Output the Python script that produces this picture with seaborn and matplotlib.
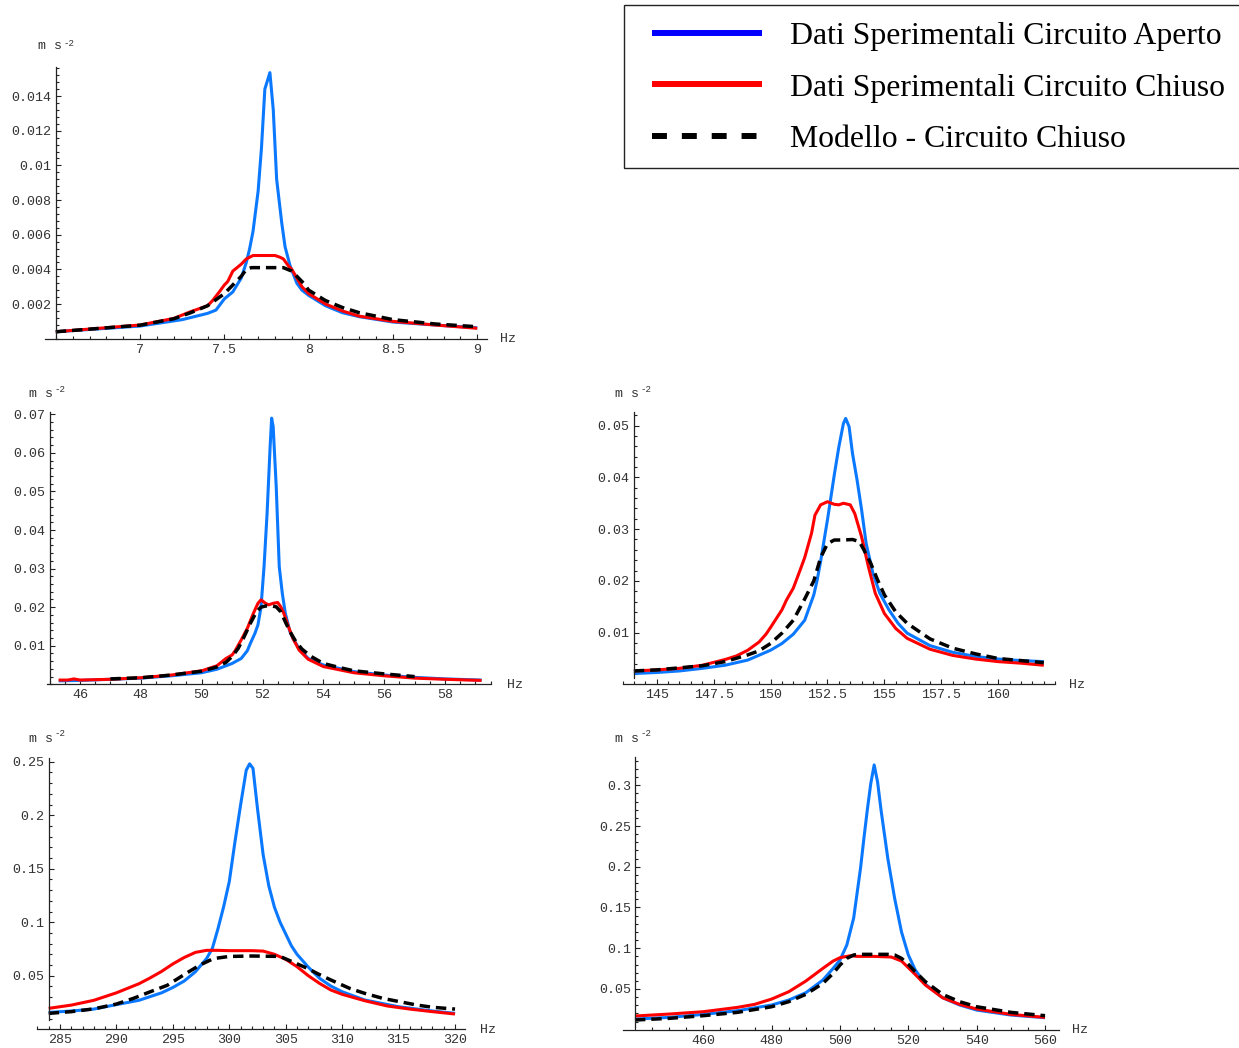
import numpy as np
import matplotlib
matplotlib.use("Agg")
import matplotlib.pyplot as plt
from matplotlib.lines import Line2D
from matplotlib.patches import Rectangle
from matplotlib.ticker import FixedLocator, FuncFormatter
import seaborn as sns

W, H = 1239, 1048

# ---------------- data ----------------
# Panel 1 (~7.7 Hz)
p1_f_open = [6.5, 7.0, 7.25, 7.4, 7.45, 7.5, 7.55, 7.6, 7.63, 7.65, 7.67, 7.7, 7.72, 7.74, 7.77, 7.79, 7.81, 7.84, 7.86, 7.89, 7.93, 7.96, 8.0, 8.1, 8.2, 8.3, 8.5, 8.75, 9.0]
p1_a_open = [0.0004, 0.00073, 0.0011, 0.00146, 0.00165, 0.0023, 0.0027, 0.0035, 0.0044, 0.0052, 0.0062, 0.0085, 0.011, 0.0144, 0.01535, 0.0132, 0.0092, 0.0067, 0.0053, 0.0042, 0.0032, 0.0028, 0.0025, 0.0019, 0.0015, 0.00127, 0.00096, 0.00079, 0.00063]
p1_f_closed = [6.5, 7.0, 7.2, 7.3, 7.4, 7.43, 7.47, 7.5, 7.52, 7.55, 7.6, 7.63, 7.67, 7.7, 7.75, 7.8, 7.83, 7.85, 7.88, 7.9, 7.93, 7.96, 8.0, 8.1, 8.2, 8.3, 8.5, 8.75, 9.0]
p1_a_closed = [0.0004, 0.00079, 0.00117, 0.00156, 0.0019, 0.0022, 0.0027, 0.0031, 0.0033, 0.0039, 0.0043, 0.0046, 0.0048, 0.0048, 0.0048, 0.0048, 0.0047, 0.0046, 0.0042, 0.004, 0.0035, 0.003, 0.0026, 0.002, 0.0016, 0.0013, 0.001, 0.00079, 0.0006]
p1_f_model = [6.5, 7.0, 7.2, 7.3, 7.4, 7.5, 7.55, 7.6, 7.63, 7.66, 7.7, 7.75, 7.8, 7.85, 7.9, 7.93, 7.97, 8.0, 8.05, 8.1, 8.2, 8.3, 8.5, 8.75, 9.0]
p1_a_model = [0.0004, 0.00078, 0.00115, 0.0015, 0.0019, 0.0026, 0.0031, 0.0036, 0.004, 0.0041, 0.0041, 0.0041, 0.0041, 0.0041, 0.0039, 0.0036, 0.0032, 0.0028, 0.0025, 0.0022, 0.0018, 0.0015, 0.0011, 0.00085, 0.00069]
p1_xticks = [7, 7.5, 8, 8.5, 9]
p1_yticks = [0.002, 0.004, 0.006, 0.008, 0.01, 0.012, 0.014]

# Panel 2 (~52 Hz)
p2_f_open = [45.3, 46, 47, 48, 49, 50, 50.5, 51, 51.3, 51.5, 51.6, 51.75, 51.85, 51.95, 52.05, 52.15, 52.25, 52.3, 52.35, 52.45, 52.55, 52.65, 52.75, 52.9, 53.0, 53.2, 53.5, 54, 55, 56, 57, 58, 59.2]
p2_a_open = [0.0009, 0.001, 0.0013, 0.0016, 0.0022, 0.003, 0.0039, 0.0054, 0.0067, 0.0087, 0.0106, 0.0132, 0.0154, 0.02, 0.0305, 0.0443, 0.0616, 0.069, 0.0668, 0.0513, 0.0305, 0.0236, 0.0184, 0.0137, 0.0119, 0.0093, 0.0067, 0.005, 0.0033, 0.0024, 0.0018, 0.0014, 0.0011]
p2_f_closed = [45.3, 45.6, 45.8, 46, 47, 48, 49, 50, 50.5, 50.8, 51.0, 51.1, 51.3, 51.5, 51.7, 51.85, 51.95, 52.1, 52.2, 52.35, 52.5, 52.6, 52.7, 52.85, 53.0, 53.2, 53.5, 54, 55, 56, 57, 58, 59.2]
p2_a_closed = [0.0011, 0.0011, 0.0014, 0.0011, 0.0013, 0.0017, 0.0024, 0.0035, 0.0048, 0.0067, 0.0076, 0.0087, 0.0115, 0.0145, 0.0184, 0.021, 0.0219, 0.021, 0.0206, 0.021, 0.0212, 0.0201, 0.0184, 0.015, 0.0119, 0.0089, 0.0065, 0.0046, 0.003, 0.0022, 0.0016, 0.0013, 0.001]
p2_f_model = [47, 48, 49, 50, 50.5, 50.8, 51.0, 51.2, 51.4, 51.6, 51.8, 51.95, 52.1, 52.3, 52.45, 52.6, 52.75, 52.9, 53.1, 53.3, 53.6, 54, 54.5, 55, 56, 57]
p2_a_model = [0.0014, 0.0017, 0.0024, 0.0034, 0.0045, 0.0057, 0.0072, 0.0093, 0.0124, 0.0158, 0.0188, 0.02, 0.0203, 0.0203, 0.0201, 0.0188, 0.0162, 0.0137, 0.011, 0.0091, 0.0072, 0.0054, 0.0044, 0.0035, 0.0027, 0.002]
p2_xticks = [46, 48, 50, 52, 54, 56, 58]
p2_yticks = [0.01, 0.02, 0.03, 0.04, 0.05, 0.06, 0.07]

# Panel 3 (~153 Hz)
p3_f_open = [144, 145, 146, 147, 148, 149, 150, 150.5, 151, 151.5, 151.9, 152.05, 152.2, 152.5, 152.8, 153.0, 153.2, 153.3, 153.45, 153.6, 153.8, 154.0, 154.2, 154.5, 154.8, 155.2, 155.6, 156, 157, 158, 159, 160, 161, 162]
p3_a_open = [0.0021, 0.0023, 0.0026, 0.0031, 0.0037, 0.0047, 0.0066, 0.0079, 0.0097, 0.0124, 0.0173, 0.0202, 0.0238, 0.0318, 0.0405, 0.0459, 0.0504, 0.0514, 0.0498, 0.0446, 0.0395, 0.0337, 0.0272, 0.0214, 0.0176, 0.0144, 0.0118, 0.0099, 0.0075, 0.0062, 0.0054, 0.0049, 0.0046, 0.0044]
p3_f_closed = [144, 145, 146, 147, 148, 148.5, 149, 149.5, 149.8, 150, 150.5, 150.7, 151, 151.3, 151.5, 151.8, 151.95, 152.2, 152.5, 152.8, 153.0, 153.2, 153.5, 153.7, 154, 154.3, 154.6, 155, 155.5, 156, 157, 158, 159, 160, 161, 162]
p3_a_closed = [0.0026, 0.0028, 0.0031, 0.0037, 0.0048, 0.0055, 0.0066, 0.0082, 0.0097, 0.011, 0.0144, 0.0163, 0.0186, 0.0221, 0.0245, 0.0292, 0.0327, 0.0347, 0.0353, 0.0348, 0.0347, 0.035, 0.0347, 0.033, 0.0285, 0.0227, 0.0176, 0.0137, 0.0108, 0.0089, 0.0068, 0.0056, 0.0049, 0.0044, 0.0041, 0.0037]
p3_f_model = [144, 145, 146, 147, 148, 149, 149.5, 150, 150.5, 151, 151.5, 151.9, 152.2, 152.5, 152.8, 153.2, 153.6, 153.9, 154.1, 154.4, 154.7, 155.0, 155.5, 156, 157, 158, 159, 160, 161, 162]
p3_a_model = [0.0026, 0.0028, 0.0032, 0.0036, 0.0044, 0.0057, 0.0065, 0.0079, 0.0099, 0.0124, 0.0165, 0.02, 0.0245, 0.0272, 0.0279, 0.0279, 0.028, 0.0276, 0.026, 0.0234, 0.0202, 0.0173, 0.014, 0.0118, 0.0088, 0.007, 0.0059, 0.005, 0.0046, 0.0042]
p3_xticks = [145, 147.5, 150, 152.5, 155, 157.5, 160]
p3_yticks = [0.01, 0.02, 0.03, 0.04, 0.05]

# Panel 4 (~302 Hz)
p4_f_open = [284, 286, 288, 290, 292, 294, 295, 296, 297, 298, 298.5, 299, 299.5, 300, 300.5, 301, 301.5, 301.8, 302.1, 302.5, 303, 303.5, 304, 304.5, 305, 305.5, 306, 307, 308, 309, 310, 312, 315, 318, 320]
p4_a_open = [0.0157, 0.017, 0.0188, 0.023, 0.027, 0.034, 0.039, 0.045, 0.0537, 0.0662, 0.0755, 0.094, 0.1145, 0.138, 0.175, 0.2095, 0.242, 0.248, 0.2438, 0.206, 0.163, 0.134, 0.114, 0.1, 0.089, 0.078, 0.07, 0.058, 0.0475, 0.0403, 0.035, 0.0273, 0.021, 0.017, 0.0148]
p4_f_closed = [284, 286, 288, 290, 292, 293, 294, 295, 296, 297, 298, 299, 300, 301, 302, 303, 304, 305, 306, 307, 308, 309, 310, 312, 314, 316, 318, 320]
p4_a_closed = [0.0195, 0.0225, 0.027, 0.034, 0.0425, 0.048, 0.054, 0.061, 0.067, 0.0718, 0.0737, 0.0737, 0.0734, 0.0734, 0.0734, 0.073, 0.07, 0.0653, 0.0584, 0.05, 0.0428, 0.0366, 0.0326, 0.0266, 0.0217, 0.0188, 0.0164, 0.0142]
p4_f_model = [284, 286, 288, 290, 291.5, 293, 294.5, 296, 297.4, 298.6, 300, 302, 304.5, 305.7, 307, 307.8, 309, 310.7, 312, 313.6, 316.6, 318, 320]
p4_a_model = [0.0148, 0.0164, 0.019, 0.0235, 0.0288, 0.035, 0.041, 0.051, 0.06, 0.066, 0.068, 0.0684, 0.068, 0.0625, 0.0565, 0.052, 0.046, 0.038, 0.0335, 0.0288, 0.0226, 0.0205, 0.0188]
p4_xticks = [285, 290, 295, 300, 305, 310, 315, 320]
p4_yticks = [0.05, 0.1, 0.15, 0.2, 0.25]

# Panel 5 (~510 Hz)
p5_f_open = [440, 450, 460, 470, 480, 485, 490, 495, 498, 500, 502, 504, 506, 507, 508, 509, 510, 511, 512, 514, 516, 518, 520, 522, 525, 530, 535, 540, 550, 560]
p5_a_open = [0.0131, 0.0151, 0.0188, 0.0233, 0.0303, 0.0364, 0.0454, 0.061, 0.0753, 0.0855, 0.104, 0.137, 0.198, 0.235, 0.27, 0.302, 0.325, 0.304, 0.27, 0.21, 0.161, 0.12, 0.0917, 0.0735, 0.0558, 0.0393, 0.0303, 0.0241, 0.018, 0.0147]
p5_f_closed = [440, 450, 460, 470, 475, 480, 485, 490, 495, 498, 500, 503, 505, 510, 515, 518, 520, 522, 525, 530, 535, 540, 550, 560]
p5_a_closed = [0.0168, 0.0192, 0.0221, 0.0274, 0.0311, 0.0376, 0.0466, 0.0597, 0.0753, 0.0843, 0.0884, 0.0908, 0.09, 0.09, 0.0892, 0.0843, 0.0761, 0.0679, 0.0548, 0.0393, 0.0311, 0.0254, 0.0188, 0.0151]
p5_f_model = [440, 450, 460, 470, 480, 485, 490, 495, 498, 500, 502, 504, 506, 510, 514, 516, 518, 520, 522, 525, 530, 535, 540, 550, 560]
p5_a_model = [0.0119, 0.0139, 0.0172, 0.0213, 0.0282, 0.0344, 0.0434, 0.0569, 0.0691, 0.0794, 0.0876, 0.0917, 0.0925, 0.0925, 0.0925, 0.0917, 0.0876, 0.0802, 0.0712, 0.0589, 0.0434, 0.0344, 0.0282, 0.0213, 0.0172]
p5_xticks = [460, 480, 500, 520, 540, 560]
p5_yticks = [0.05, 0.1, 0.15, 0.2, 0.25, 0.3]

legend_labels = ["Dati Sperimentali Circuito Aperto",
                 "Dati Sperimentali Circuito Chiuso",
                 "Modello - Circuito Chiuso"]
unit_text = "m s"
unit_sup = "-2"
freq_unit = "Hz"

# ---------------- styles / layout ----------------
C_OPEN = "#0a78ff"
C_CLOSED = "#ff0000"
C_MODEL = "#000000"
MONO = "Liberation Mono"
SERIF = "Liberation Serif"
TICK_FS = 9.6

panels = [
    dict(data=(p1_f_open, p1_a_open, p1_f_closed, p1_a_closed, p1_f_model, p1_a_model),
         xt=p1_xticks, yt=p1_yticks,
         xlim=(6.436, 9.056), px=(45, 486.7), yzero=338.7, ky=17333, ylim=(-0.0004, 0.0161),
         ox=6.5, yb=(0, 0.0157), mx=0.1, my=0.0004, unit=(37.7, 49.3, 45.6), hz=(500, 341.7)),
    dict(data=(p2_f_open, p2_a_open, p2_f_closed, p2_a_closed, p2_f_model, p2_a_model),
         xt=p2_xticks, yt=p2_yticks,
         xlim=(44.9, 59.5), px=(46.5, 490.7), yzero=684.3, ky=3857, ylim=(-0.0015, 0.0715),
         ox=45, yb=(0, 0.0705), mx=0.5, my=0.002, unit=(29.3, 396.6, 391.5), hz=(506.7, 688.3)),
    dict(data=(p3_f_open, p3_a_open, p3_f_closed, p3_a_closed, p3_f_model, p3_a_model),
         xt=p3_xticks, yt=p3_yticks,
         xlim=(143.5, 162.5), px=(622.5, 1055.2), yzero=684.4, ky=5175, ylim=(-0.001, 0.0535),
         ox=144, yb=(0.0012, 0.0527), mx=0.5, my=0.002, unit=(615, 396.6, 391.5), hz=(1069.3, 688.3)),
    dict(data=(p4_f_open, p4_a_open, p4_f_closed, p4_a_closed, p4_f_model, p4_a_model),
         xt=p4_xticks, yt=p4_yticks,
         xlim=(283, 320.9), px=(37.4, 465.2), yzero=1029.2, ky=1070, ylim=(-0.004, 0.256),
         ox=284, yb=(0.0086, 0.2532), mx=1, my=0.01, unit=(29.3, 741.6, 736.5), hz=(480, 1033.3)),
    dict(data=(p5_f_open, p5_a_open, p5_f_closed, p5_a_closed, p5_f_model, p5_a_model),
         xt=p5_xticks, yt=p5_yticks,
         xlim=(436.5, 564), px=(623, 1058.7), yzero=1029.7, ky=814.7, ylim=(-0.005, 0.338),
         ox=440, yb=(0.0037, 0.335), mx=5, my=0.01, unit=(615, 741.6, 736.5), hz=(1071.7, 1033.3)),
]


def minor_positions(lo, hi, step):
    start = np.ceil(lo / step - 1e-9) * step
    return list(np.arange(start, hi + step * 1e-6, step))


fig = plt.figure(figsize=(W / 100, H / 100), dpi=100)
fig.patch.set_facecolor("white")

fmt = FuncFormatter(lambda v, pos: f"{round(v, 6):g}")

for p in panels:
    x0p, x1p = p["px"]
    ya, yb = p["ylim"]
    bot_px = p["yzero"] - ya * p["ky"]
    top_px = p["yzero"] - yb * p["ky"]
    ax = fig.add_axes([x0p / W, 1 - bot_px / H, (x1p - x0p) / W, (bot_px - top_px) / H])
    ax.set_facecolor("none")
    fo, ao, fc, ac, fm, am = p["data"]
    sns.lineplot(x=np.array(fo), y=np.array(ao), ax=ax, color=C_OPEN, lw=2.2,
                 estimator=None, sort=False, legend=False)
    sns.lineplot(x=np.array(fc), y=np.array(ac), ax=ax, color=C_CLOSED, lw=2.2,
                 estimator=None, sort=False, legend=False)
    sns.lineplot(x=np.array(fm), y=np.array(am), ax=ax, color=C_MODEL, lw=2.5,
                 linestyle=(0, (3.0, 1.7)), estimator=None, sort=False, legend=False)
    for ln in ax.lines:
        ln.set_solid_capstyle("butt")
        ln.set_dash_capstyle("butt")
    ax.set_xlim(*p["xlim"])
    ax.set_ylim(*p["ylim"])
    ax.set_xlabel("")
    ax.set_ylabel("")
    for s in ("top", "right"):
        ax.spines[s].set_visible(False)
    ax.spines["bottom"].set_position(("data", 0))
    ax.spines["left"].set_position(("data", p["ox"]))
    ax.spines["left"].set_bounds(*p["yb"])
    for s in ("bottom", "left"):
        ax.spines[s].set_linewidth(0.9)
        ax.spines[s].set_color("#222222")
    ax.xaxis.set_major_locator(FixedLocator(p["xt"]))
    ax.yaxis.set_major_locator(FixedLocator(p["yt"]))
    ax.xaxis.set_minor_locator(FixedLocator(minor_positions(p["xlim"][0], p["xlim"][1], p["mx"])))
    ax.yaxis.set_minor_locator(FixedLocator(minor_positions(p["yb"][0], p["yb"][1], p["my"])))
    ax.xaxis.set_major_formatter(fmt)
    ax.yaxis.set_major_formatter(fmt)
    ax.tick_params(which="both", direction="in", color="#222222", width=0.8)
    ax.tick_params(which="major", length=3.8)
    ax.tick_params(which="minor", length=2.2)
    ax.tick_params(axis="x", which="major", pad=3.5)
    ax.tick_params(axis="y", which="major", pad=3)
    for lab in ax.get_xticklabels() + ax.get_yticklabels():
        lab.set_fontfamily(MONO)
        lab.set_fontsize(TICK_FS)
        lab.set_color("#333333")
    ux, uy, usy = p["unit"]
    fig.text(ux / W, 1 - uy / H, unit_text, family=MONO, size=TICK_FS, color="#333333",
             ha="left", va="baseline")
    fig.text((ux + 25.5) / W, 1 - usy / H, unit_sup, family=MONO, size=6.6, color="#333333",
             ha="left", va="baseline")
    hx, hy = p["hz"]
    fig.text(hx / W, 1 - hy / H, freq_unit, family=MONO, size=TICK_FS, color="#333333",
             ha="left", va="baseline")

# ---------------- legend ----------------
LEG_FS = 22.9
handles = [
    Line2D([], [], color="#0000ff", lw=4.3, solid_capstyle="butt"),
    Line2D([], [], color="#ff0000", lw=4.3, solid_capstyle="butt"),
    Line2D([], [], color="#000000", lw=4.3, linestyle=(0, (2.5, 2.5)), dash_capstyle="butt"),
]
fig.legend(handles, legend_labels, loc="center left", bbox_to_anchor=(652 / W, 1 - 88 / H),
           frameon=False, borderpad=0, borderaxespad=0, handlelength=3.47,
           handletextpad=0.88, labelspacing=0.70,
           prop=dict(family=SERIF, size=LEG_FS))
fig.patches.append(Rectangle((624 / W, 1 - 168 / H), (1250 - 624) / W, (168 - 5) / H,
                             transform=fig.transFigure, fill=False, edgecolor="#222222",
                             linewidth=1.0))

fig.savefig("out.png", dpi=100)
